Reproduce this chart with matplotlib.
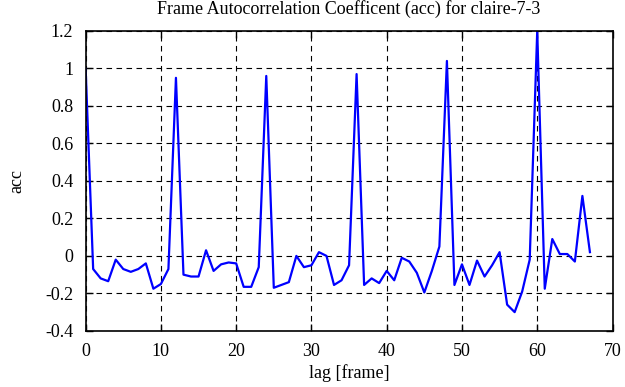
import matplotlib
matplotlib.use("Agg")
from matplotlib import pyplot as plt

lags = list(range(68))
acc = [1.0, -0.07, -0.12, -0.135, -0.02, -0.07, -0.085, -0.07, -0.04, -0.175,
       -0.15, -0.07, 0.95, -0.1, -0.11, -0.11, 0.03, -0.08, -0.045, -0.035,
       -0.04, -0.165, -0.165, -0.06, 0.96, -0.17, -0.155, -0.14, 0.0, -0.06,
       -0.05, 0.02, 0.0, -0.155, -0.13, -0.05, 0.97, -0.155, -0.12, -0.145,
       -0.08, -0.13, -0.01, -0.03, -0.09, -0.195, -0.08, 0.05, 1.04, -0.155,
       -0.045, -0.155, -0.025, -0.11, -0.05, 0.02, -0.26, -0.3, -0.19, -0.02,
       1.2, -0.175, 0.09, 0.01, 0.01, -0.03, 0.32, 0.02]

plt.rcParams['font.family'] = ['Liberation Serif', 'DejaVu Serif']

fig = plt.figure(figsize=(6.25, 3.87), dpi=100)
ax = fig.add_axes([0.137, 0.145, 0.843, 0.775])
ax.plot(lags, acc, color='#0000ff', linewidth=1.6)
ax.set_xlim(0, 70)
ax.set_ylim(-0.4, 1.2)
ax.set_xticks(range(0, 71, 10))
ax.set_yticks([-0.4, -0.2, 0, 0.2, 0.4, 0.6, 0.8, 1, 1.2])
ax.set_yticklabels(['-0.4', '-0.2', '0', '0.2', '0.4', '0.6', '0.8', '1', '1.2'])
ax.grid(True, linestyle=(0, (5, 4)), color='black', linewidth=0.8)
ax.tick_params(direction='in', top=True, right=True, labelsize=13, length=5, width=1)
ax.tick_params(axis='x', pad=9)
ax.tick_params(axis='y', pad=9)
for s in ax.spines.values():
    s.set_linewidth(1.2)
ax.set_xlabel('lag [frame]', fontsize=13, labelpad=3)
ax.set_ylabel('acc', fontsize=13, labelpad=14)
ax.set_title('Frame Autocorrelation Coefficent (acc) for claire-7-3', fontsize=13, pad=12)
fig.savefig('out.png', dpi=100)
